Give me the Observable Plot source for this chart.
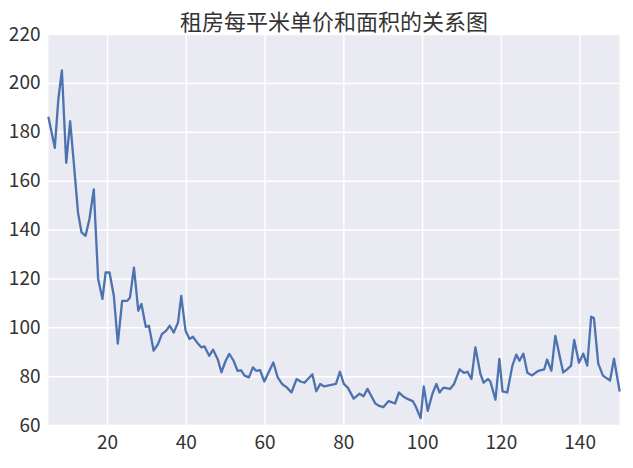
<!DOCTYPE html>
<html>
<head>
<meta charset="utf-8">
<script src="https://cdn.jsdelivr.net/npm/d3@7"></script>
<script src="https://cdn.jsdelivr.net/npm/@observablehq/plot@0.6"></script>
<style>
  html, body { margin: 0; padding: 0; background: #ffffff; }
</style>
</head>
<body>
<div id="chart"></div>
<script>
const title = "租房每平米单价和面积的关系图";

const areas = [5, 6.6, 7.5, 8.4, 9.5, 10.5, 11.5, 12.5, 13.4, 14.4, 15.4, 16.5, 17.6, 18.7, 19.5, 20.5, 21.6, 22.6, 23.7, 25, 25.7, 26.7, 27.8, 28.6, 29.7, 30.5, 31.7, 32.8, 33.8, 34.9, 35.8, 36.8, 37.9, 38.7, 39.8, 40.8, 41.7, 42.7, 43.8, 44.6, 45.8, 46.8, 48, 48.9, 50, 50.9, 52, 53, 53.9, 54.8, 55.9, 56.9, 57.7, 58.7, 59.8, 60.9, 62.1, 63.2, 64.3, 65.5, 66.7, 68, 69, 70, 72, 73, 74, 75, 76.5, 78, 79, 80, 81, 82.5, 84, 85, 86, 88, 89, 90, 91.4, 93, 94, 95, 96, 97.5, 98.2, 99.5, 100.3, 101.3, 102.5, 103.5, 104.3, 105.3, 107, 108, 109.4, 110.5, 111.4, 112.4, 113.4, 114.7, 115.5, 116.6, 117.2, 118.5, 119.5, 120.3, 121.5, 122.8, 123.8, 124.6, 125.6, 126.6, 127.8, 129.4, 130.9, 131.6, 132.7, 133.7, 135.7, 136.7, 137.7, 138.5, 139.7, 140.8, 141.8, 142.8, 143.5, 144.6, 145.8, 147.6, 148.6, 150];

const prices = [186, 173.6, 193.5, 205.3, 167.5, 184.5, 166, 147, 139, 137.6, 144.5, 156.6, 120, 111.8, 122.6, 122.6, 113, 93.5, 111, 111, 112.4, 124.6, 107, 109.7, 100.4, 100.8, 90.6, 93.3, 97.4, 98.8, 100.8, 98, 102.2, 113, 98.8, 95.4, 96.3, 94, 92, 92.4, 88.5, 91, 87, 81.8, 86.5, 89.3, 86.5, 82.4, 82.6, 80.4, 79.7, 83.8, 82.4, 82.7, 78, 81.8, 85.8, 79.7, 77, 75.6, 73.5, 79, 78, 77.5, 81, 74, 77, 76, 76.5, 77, 82, 77, 75.5, 71, 73, 72, 75, 69, 68, 67.5, 70, 69, 73.5, 72, 71, 70, 68, 63, 76, 66, 73, 77, 73.5, 75.5, 75, 77, 83, 81.5, 82, 79, 92, 81, 77.5, 79, 78, 70.6, 87.3, 74, 73.5, 84.5, 89, 86.5, 89.4, 81.6, 80.5, 82.4, 83, 87, 82.4, 96.7, 81.7, 83, 84.5, 95, 85.7, 89.4, 84.5, 104.5, 104, 85.3, 80.4, 78.4, 87.3, 74.3];

const xTicks = [20, 40, 60, 80, 100, 120, 140];
const yTicks = [60, 80, 100, 120, 140, 160, 180, 200, 220];

const data = areas.map((a, i) => ({area: a, price: prices[i]}));

const chart = Plot.plot({
  width: 633,
  height: 468,
  marginTop: 34,
  marginBottom: 43,
  marginLeft: 48,
  marginRight: 14,
  style: {
    fontFamily: "'Noto Sans CJK SC', 'Noto Sans', sans-serif",
    fontSize: "19px",
    color: "#333333",
    background: "#ffffff"
  },
  x: {domain: [5, 150], ticks: xTicks, tickSize: 0, tickPadding: 10, label: null},
  y: {domain: [60, 220], ticks: yTicks, tickSize: 0, tickPadding: 8, label: null},
  marks: [
    Plot.frame({fill: "#EAEAF2", stroke: null}),
    Plot.ruleX(xTicks, {stroke: "#ffffff", strokeWidth: 1.5}),
    Plot.ruleY(yTicks, {stroke: "#ffffff", strokeWidth: 1.5}),
    Plot.line(data, {x: "area", y: "price", stroke: "#4C72B0", strokeWidth: 2.3}),
    Plot.text([title], {frameAnchor: "top", dy: -20, fontSize: 22, fill: "#333333"})
  ]
});
document.getElementById("chart").appendChild(chart);
</script>
</body>
</html>
